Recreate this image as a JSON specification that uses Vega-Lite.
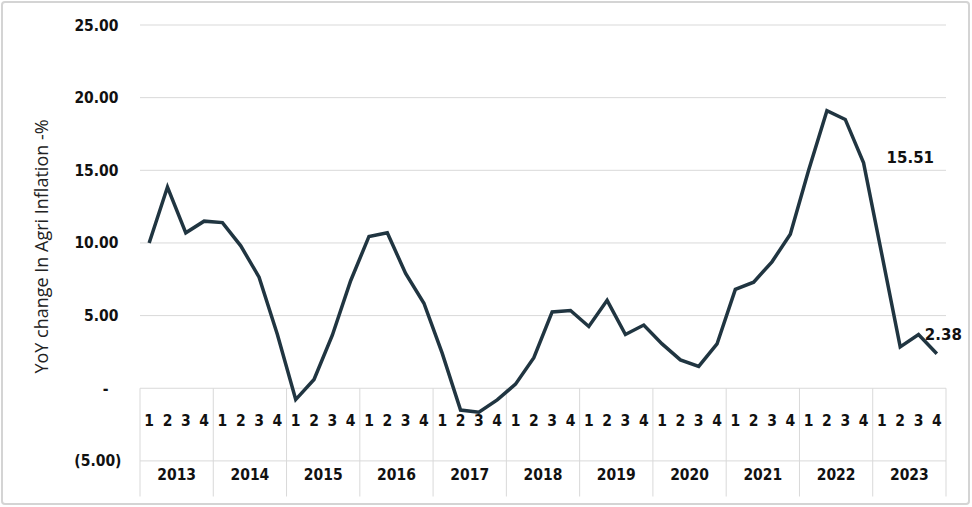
{
  "$schema": "https://vega.github.io/schema/vega-lite/v6.json",
  "width": 967,
  "height": 502,
  "autosize": {"type": "none"},
  "padding": {"left": 2, "top": 2, "right": 3, "bottom": 3},
  "background": "white",
  "config": {
    "view": {"stroke": "#d4d4d4", "strokeWidth": 2, "cornerRadius": 3},
    "font": "DejaVu Sans",
    "axisY": {"domain": false, "ticks": false, "grid": false, "offset": -134,
              "labelFont": "DejaVu Sans Condensed", "labelFontWeight": "bold", "labelFontSize": 15.5,
              "labelColor": "#111111", "labelBaseline": "middle"}
  },
  "resolve": {"axis": {"y": "independent"}},
  "data": {"values": [
    {"p": "2013-1", "year": "2013", "q": 1, "v": 10.0},
    {"p": "2013-2", "year": "2013", "q": 2, "v": 13.85},
    {"p": "2013-3", "year": "2013", "q": 3, "v": 10.7},
    {"p": "2013-4", "year": "2013", "q": 4, "v": 11.5},
    {"p": "2014-1", "year": "2014", "q": 1, "v": 11.4},
    {"p": "2014-2", "year": "2014", "q": 2, "v": 9.8},
    {"p": "2014-3", "year": "2014", "q": 3, "v": 7.65},
    {"p": "2014-4", "year": "2014", "q": 4, "v": 3.7},
    {"p": "2015-1", "year": "2015", "q": 1, "v": -0.78},
    {"p": "2015-2", "year": "2015", "q": 2, "v": 0.6},
    {"p": "2015-3", "year": "2015", "q": 3, "v": 3.65},
    {"p": "2015-4", "year": "2015", "q": 4, "v": 7.4},
    {"p": "2016-1", "year": "2016", "q": 1, "v": 10.45},
    {"p": "2016-2", "year": "2016", "q": 2, "v": 10.7},
    {"p": "2016-3", "year": "2016", "q": 3, "v": 7.9},
    {"p": "2016-4", "year": "2016", "q": 4, "v": 5.85},
    {"p": "2017-1", "year": "2017", "q": 1, "v": 2.4},
    {"p": "2017-2", "year": "2017", "q": 2, "v": -1.5},
    {"p": "2017-3", "year": "2017", "q": 3, "v": -1.65},
    {"p": "2017-4", "year": "2017", "q": 4, "v": -0.8},
    {"p": "2018-1", "year": "2018", "q": 1, "v": 0.28},
    {"p": "2018-2", "year": "2018", "q": 2, "v": 2.1},
    {"p": "2018-3", "year": "2018", "q": 3, "v": 5.25},
    {"p": "2018-4", "year": "2018", "q": 4, "v": 5.35},
    {"p": "2019-1", "year": "2019", "q": 1, "v": 4.25},
    {"p": "2019-2", "year": "2019", "q": 2, "v": 6.05},
    {"p": "2019-3", "year": "2019", "q": 3, "v": 3.7},
    {"p": "2019-4", "year": "2019", "q": 4, "v": 4.35},
    {"p": "2020-1", "year": "2020", "q": 1, "v": 3.05},
    {"p": "2020-2", "year": "2020", "q": 2, "v": 1.95},
    {"p": "2020-3", "year": "2020", "q": 3, "v": 1.5},
    {"p": "2020-4", "year": "2020", "q": 4, "v": 3.05},
    {"p": "2021-1", "year": "2021", "q": 1, "v": 6.8},
    {"p": "2021-2", "year": "2021", "q": 2, "v": 7.3},
    {"p": "2021-3", "year": "2021", "q": 3, "v": 8.7},
    {"p": "2021-4", "year": "2021", "q": 4, "v": 10.6},
    {"p": "2022-1", "year": "2022", "q": 1, "v": 15.0},
    {"p": "2022-2", "year": "2022", "q": 2, "v": 19.1},
    {"p": "2022-3", "year": "2022", "q": 3, "v": 18.5},
    {"p": "2022-4", "year": "2022", "q": 4, "v": 15.51},
    {"p": "2023-1", "year": "2023", "q": 1, "v": 9.2},
    {"p": "2023-2", "year": "2023", "q": 2, "v": 2.85},
    {"p": "2023-3", "year": "2023", "q": 3, "v": 3.7},
    {"p": "2023-4", "year": "2023", "q": 4, "v": 2.38}
  ]},
  "layer": [
    {
      "data": {"values": [{"g": -5}, {"g": 0}, {"g": 5}, {"g": 10}, {"g": 15}, {"g": 20}, {"g": 25}]},
      "mark": {"type": "rule", "color": "#d9d9d9", "strokeWidth": 1},
      "encoding": {
        "y": {
          "field": "g", "type": "quantitative",
          "scale": {"domain": [-7.45, 25], "range": [494.5, 23], "nice": false, "zero": false},
          "axis": {
            "orient": "left",
            "values": [5, 10, 15, 20, 25],
            "format": ".2f",
            "labelPadding": 18,
            "title": "YoY change In Agri Inflation -%",
            "titleFont": "Open Sans", "titleFontSize": 18, "titleFontWeight": "normal", "titleColor": "#222222",
            "titleX": -94, "titleY": 244, "titleAngle": -90, "titleAlign": "center", "titleBaseline": "middle"
          }
        },
        "x": {"datum": "2013-1", "type": "ordinal", "bandPosition": 0,
              "scale": {"type": "band", "paddingInner": 0, "paddingOuter": 0, "range": [138, 944]}, "axis": null},
        "x2": {"datum": "2023-4", "bandPosition": 1}
      }
    },
    {
      "transform": [{"filter": "datum.q == 1"}],
      "mark": {"type": "rule", "color": "#d9d9d9", "strokeWidth": 1},
      "encoding": {
        "x": {"field": "p", "type": "ordinal", "bandPosition": 0},
        "y": {"datum": 0, "type": "quantitative",
              "axis": {"orient": "left", "values": [-5], "labelExpr": "'(' + format(-datum.value, '.2f') + ')'", "labelPadding": 15, "title": null}},
        "y2": {"datum": -7.45}
      }
    },
    {
      "transform": [{"filter": "datum.p == '2023-4'"}],
      "mark": {"type": "rule", "color": "#d9d9d9", "strokeWidth": 1},
      "encoding": {
        "x": {"field": "p", "type": "ordinal", "bandPosition": 1},
        "y": {"datum": 0, "type": "quantitative",
              "axis": {"orient": "left", "values": [0], "labelExpr": "'-'", "labelPadding": 28, "title": null}},
        "y2": {"datum": -7.45}
      }
    },
    {
      "mark": {"type": "text", "font": "DejaVu Sans Condensed", "fontWeight": "bold", "fontSize": 15.5, "color": "#111111", "baseline": "middle", "align": "center"},
      "encoding": {
        "x": {"field": "p", "type": "ordinal", "bandPosition": 0.5},
        "y": {"datum": -2.27, "type": "quantitative", "axis": null},
        "text": {"field": "q", "type": "nominal"}
      }
    },
    {
      "transform": [{"filter": "datum.q == 2"}],
      "mark": {"type": "text", "font": "DejaVu Sans Condensed", "fontWeight": "bold", "fontSize": 15.5, "color": "#111111", "baseline": "middle", "align": "center"},
      "encoding": {
        "x": {"field": "p", "type": "ordinal", "bandPosition": 1},
        "y": {"datum": -5.98, "type": "quantitative", "axis": null},
        "text": {"field": "year", "type": "nominal"}
      }
    },
    {
      "mark": {"type": "line", "color": "#203541", "strokeWidth": 3.5},
      "encoding": {
        "x": {"field": "p", "type": "ordinal", "bandPosition": 0.5},
        "y": {"field": "v", "type": "quantitative", "axis": null}
      }
    },
    {
      "transform": [{"filter": "datum.p == '2022-4'"}],
      "mark": {"type": "text", "font": "DejaVu Sans", "fontWeight": "bold", "fontSize": 15, "color": "#111111", "baseline": "middle", "align": "left", "dx": 23, "dy": -5},
      "encoding": {
        "x": {"field": "p", "type": "ordinal", "bandPosition": 0.5},
        "y": {"field": "v", "type": "quantitative", "axis": null},
        "text": {"field": "v", "type": "quantitative", "format": ".2f"}
      }
    },
    {
      "transform": [{"filter": "datum.p == '2023-4'"}],
      "mark": {"type": "text", "font": "DejaVu Sans", "fontWeight": "bold", "fontSize": 15, "color": "#111111", "baseline": "middle", "align": "left", "dx": -12, "dy": -19},
      "encoding": {
        "x": {"field": "p", "type": "ordinal", "bandPosition": 0.5},
        "y": {"field": "v", "type": "quantitative", "axis": null},
        "text": {"field": "v", "type": "quantitative", "format": ".2f"}
      }
    }
  ]
}
